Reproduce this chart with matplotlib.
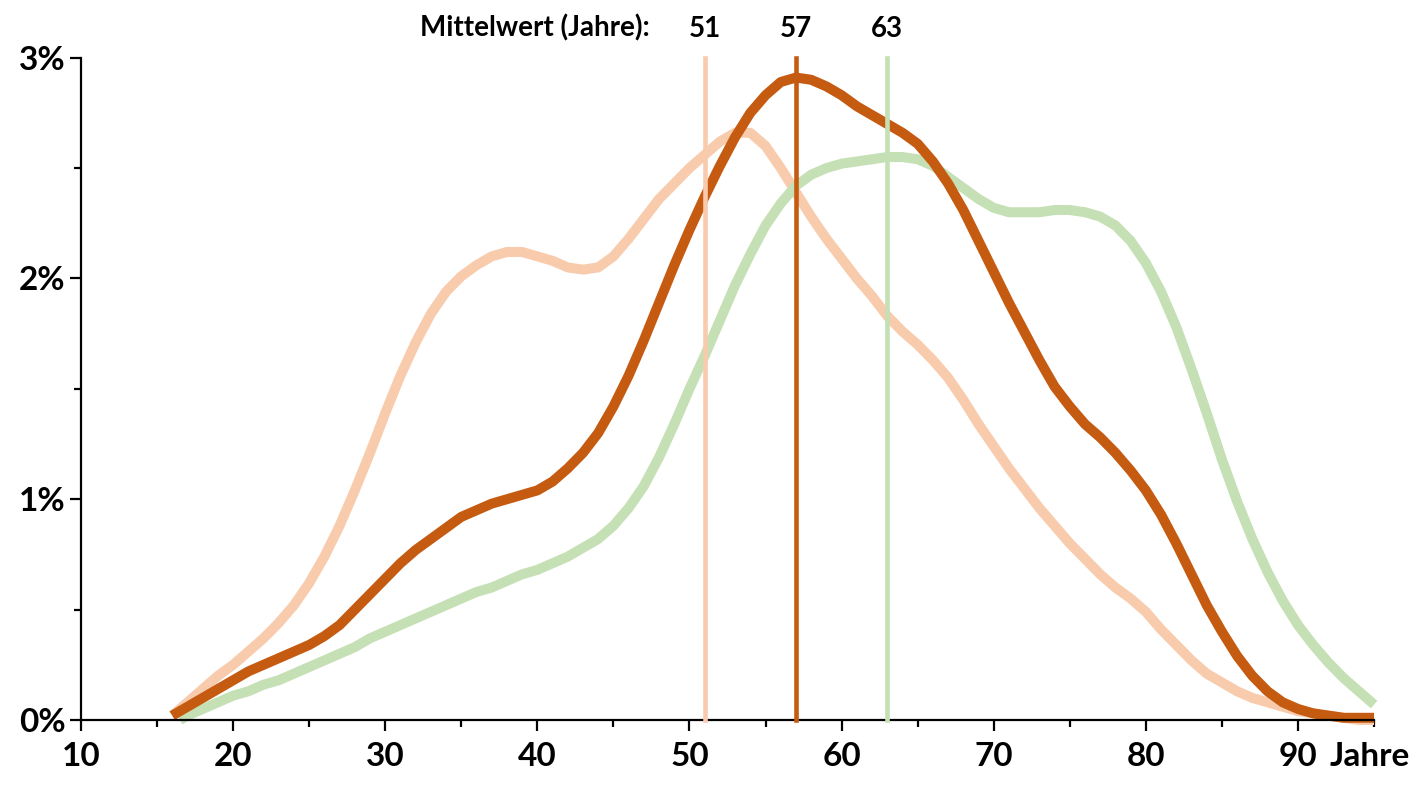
import numpy as np
import matplotlib.pyplot as plt
from matplotlib import ticker

plt.rcParams['font.family'] = ['Lato', 'DejaVu Sans']

# age in years, share in %
age_a = list(range(16, 96))
share_a = [0.02, 0.08, 0.14, 0.2, 0.25, 0.31, 0.37, 0.44, 0.52, 0.62, 0.74, 0.88, 1.04,
           1.21, 1.39, 1.56, 1.71, 1.84, 1.94, 2.01, 2.06, 2.1, 2.12, 2.12, 2.1, 2.08,
           2.05, 2.04, 2.05, 2.1, 2.18, 2.27, 2.36, 2.43, 2.5, 2.56, 2.62, 2.66, 2.66,
           2.6, 2.5, 2.39, 2.28, 2.18, 2.09, 2.0, 1.92, 1.83, 1.76, 1.7, 1.63, 1.55,
           1.45, 1.34, 1.24, 1.14, 1.05, 0.96, 0.88, 0.8, 0.73, 0.66, 0.6, 0.55, 0.49,
           0.41, 0.34, 0.27, 0.21, 0.17, 0.13, 0.1, 0.08, 0.06, 0.04, 0.03, 0.02, 0.01,
           0.0, 0.0]

age_b = list(range(16, 96))
share_b = [0.02, 0.06, 0.1, 0.14, 0.18, 0.22, 0.25, 0.28, 0.31, 0.34, 0.38, 0.43, 0.5,
           0.57, 0.64, 0.71, 0.77, 0.82, 0.87, 0.92, 0.95, 0.98, 1.0, 1.02, 1.04, 1.08,
           1.14, 1.21, 1.3, 1.42, 1.56, 1.72, 1.89, 2.06, 2.22, 2.37, 2.51, 2.64, 2.75,
           2.83, 2.89, 2.91, 2.9, 2.87, 2.83, 2.78, 2.74, 2.7, 2.66, 2.61, 2.53, 2.43,
           2.31, 2.17, 2.03, 1.89, 1.76, 1.63, 1.51, 1.42, 1.34, 1.28, 1.21, 1.13, 1.04,
           0.93, 0.8, 0.66, 0.52, 0.4, 0.29, 0.2, 0.13, 0.08, 0.05, 0.03, 0.02, 0.01,
           0.01, 0.01]

age_c = [16.5] + list(range(17, 96))
share_c = [0.0, 0.02, 0.05, 0.08, 0.11, 0.13, 0.16, 0.18, 0.21, 0.24, 0.27, 0.3, 0.33,
           0.37, 0.4, 0.43, 0.46, 0.49, 0.52, 0.55, 0.58, 0.6, 0.63, 0.66, 0.68, 0.71,
           0.74, 0.78, 0.82, 0.88, 0.96, 1.06, 1.19, 1.34, 1.5, 1.65, 1.81, 1.97, 2.11,
           2.24, 2.34, 2.42, 2.47, 2.5, 2.52, 2.53, 2.54, 2.55, 2.55, 2.54, 2.51, 2.46,
           2.41, 2.36, 2.32, 2.3, 2.3, 2.3, 2.31, 2.31, 2.3, 2.28, 2.24, 2.17, 2.07,
           1.94, 1.78, 1.59, 1.39, 1.18, 0.99, 0.82, 0.67, 0.54, 0.43, 0.34, 0.26, 0.19,
           0.13, 0.07]

means = [51, 57, 63]
colors = ['#F8CBAD', '#C55A11', '#C5E0B4']

fig = plt.figure(figsize=(14.23, 7.85), dpi=100)
ax = fig.add_axes([0.0569, 0.0828, 0.9087, 0.8437])

for ages, vals, col in zip([age_a, age_c, age_b], [share_a, share_c, share_b],
                           [colors[0], colors[2], colors[1]]):
    ax.plot(ages, vals, color=col, lw=7.2, solid_capstyle='butt',
            solid_joinstyle='round', clip_on=False)

for m, col in zip(means, colors):
    ax.plot([m, m], [0, 3], color=col, lw=3.3, clip_on=False, zorder=3)

ax.set_xlim(10, 95)
ax.set_ylim(0, 3)
for s in ['top', 'right']:
    ax.spines[s].set_visible(False)
for s in ['left', 'bottom']:
    ax.spines[s].set_linewidth(1.6)

ax.xaxis.set_major_locator(ticker.FixedLocator(range(10, 91, 10)))
ax.xaxis.set_minor_locator(ticker.FixedLocator(range(15, 96, 10)))
ax.yaxis.set_major_locator(ticker.FixedLocator([0, 1, 2, 3]))
ax.yaxis.set_minor_locator(ticker.FixedLocator([0.5, 1.5, 2.5]))
ax.yaxis.set_major_formatter(ticker.FuncFormatter(lambda v, p: '{:d}%'.format(int(v))))
ax.tick_params(axis='both', which='major', length=8, width=1.6, labelsize=24,
               direction='out')
ax.tick_params(axis='both', which='minor', length=5, width=1.6, direction='out')
ax.tick_params(axis='x', which='major', pad=8)
ax.tick_params(axis='y', which='major', pad=3)
for lab in ax.get_xticklabels() + ax.get_yticklabels():
    lab.set_fontweight('bold')

ax.annotate('Jahre', xy=(92.1, 0), xycoords=('data', 'axes fraction'),
            xytext=(0, -16), textcoords='offset points', ha='left', va='top',
            fontsize=24, fontweight='bold')

ax.annotate('Mittelwert (Jahre):', xy=(47.4, 3), xycoords='data',
            xytext=(0, 15), textcoords='offset points', ha='right', va='baseline',
            fontsize=20, fontweight='bold')
for m in means:
    ax.annotate(str(m), xy=(m, 3), xycoords='data', xytext=(0, 15),
                textcoords='offset points', ha='center', va='baseline',
                fontsize=20, fontweight='bold')

fig.savefig('out.png', dpi=100)
